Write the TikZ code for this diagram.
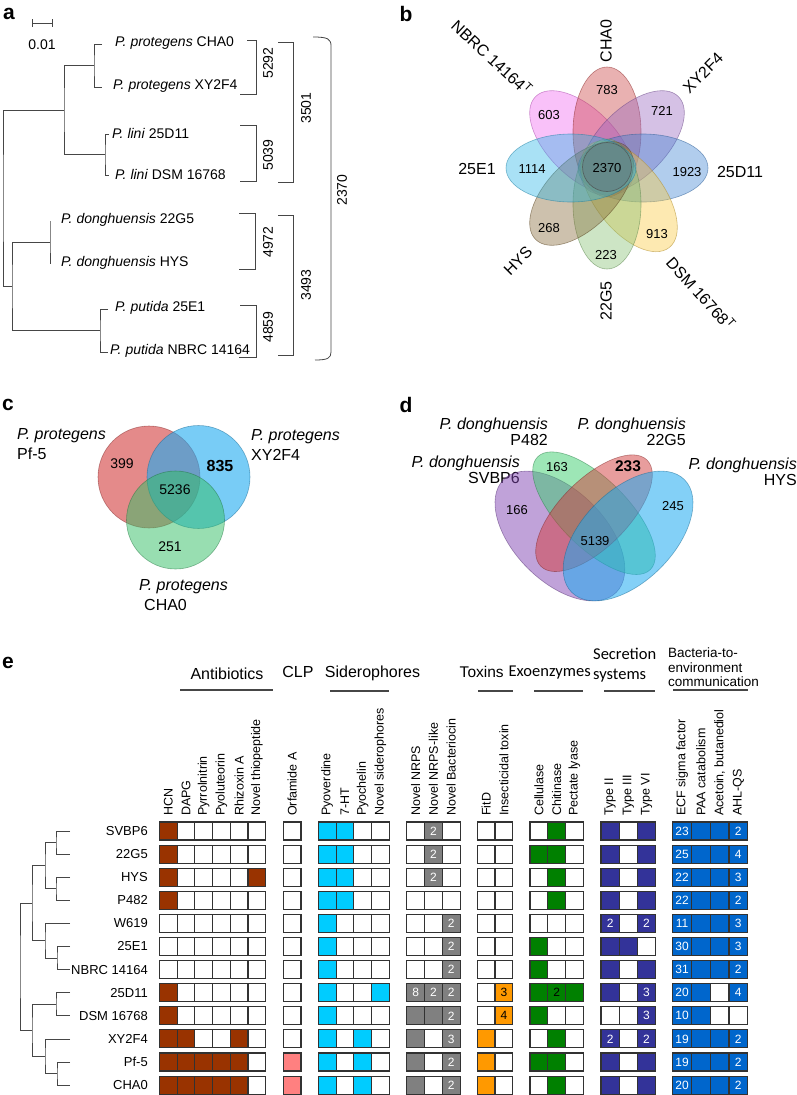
\documentclass[tikz,border=0pt]{standalone}
\usepackage{fontspec}
\setmainfont{Liberation Sans}
\newfontfamily\calibfont{Carlito}
\definecolor{abx}{RGB}{153,51,0}
\definecolor{orf}{RGB}{255,128,128}
\definecolor{sid}{RGB}{0,204,255}
\definecolor{nrp}{RGB}{128,128,128}
\definecolor{tox}{RGB}{255,153,0}
\definecolor{exo}{RGB}{0,128,0}
\definecolor{sec}{RGB}{51,51,153}
\definecolor{com}{RGB}{0,102,204}
\definecolor{cellline}{RGB}{50,50,50}
\definecolor{linegray}{RGB}{70,70,70}
\definecolor{cNB}{RGB}{240,100,240}
\definecolor{cCH}{RGB}{200,60,60}
\definecolor{cXY}{RGB}{150,100,190}
\definecolor{cDE}{RGB}{60,130,210}
\definecolor{cDS}{RGB}{250,200,60}
\definecolor{cGF}{RGB}{130,190,110}
\definecolor{cHY}{RGB}{130,100,50}
\definecolor{cEO}{RGB}{40,180,230}
\definecolor{cCenter}{RGB}{90,60,90}
\definecolor{vRed}{RGB}{210,60,60}
\definecolor{vBlue}{RGB}{30,170,240}
\definecolor{vGreen}{RGB}{50,190,100}
\definecolor{vPurp}{RGB}{130,70,180}
\definecolor{vGrn}{RGB}{60,205,110}
\newcommand\myfs[1]{\fontsize{#1}{#1}\selectfont}
\newcommand\cellgroup[6]{%
  \foreach \vals [count=\r from 0] in {#6}{%
    \foreach \v [count=\k from 0] in \vals {%
      \pgfmathsetmacro\cx{#2+#3*(\k+0.5)}%
      \pgfmathsetmacro\cy{831+23.1*\r}%
      \ifnum\v=0\relax
        \node[cellbox, minimum width=#3pt] (#1-\r-\k) at (\cx,\cy) {};%
      \else\ifnum\v=1\relax
        \node[cellbox, minimum width=#3pt, fill=#4] (#1-\r-\k) at (\cx,\cy) {};%
      \else
        \node[cellbox, minimum width=#3pt, fill=#4, text=#5] (#1-\r-\k) at (\cx,\cy) {\v};%
      \fi\fi
    }%
  }%
}
\newcommand\collabels[4]{%
  \foreach \t [count=\k from 0] in {#4}{%
    \pgfmathsetmacro\cx{#2+#3*(\k+0.5)}%
    \node[collab] (#1-lab-\k) at (\cx,816) {\t};%
  }%
}
\begin{document}
\begin{tikzpicture}[x=1pt,y=-1pt,
  tree/.style={draw=linegray, line width=0.8pt},
  brk/.style={draw=linegray, line width=0.8pt},
  leaf/.style={anchor=west, font=\myfs{14}, inner sep=0pt},
  brklab/.style={rotate=90, font=\myfs{14}, inner sep=0pt},
  plet/.style={font=\myfs{21}\bfseries, inner sep=0pt},
  bnum/.style={font=\myfs{13}, inner sep=0pt},
  blab/.style={font=\myfs{16}, inner sep=0pt},
  cnum/.style={font=\myfs{14}, inner sep=0pt},
  vlab/.style={font=\fontsize{16}{20}\selectfont, inner sep=0pt},
  dlab/.style={font=\fontsize{16}{16}\selectfont, inner sep=0pt, align=right, anchor=east},
  cellbox/.style={draw=cellline, line width=1.1pt, minimum height=18pt, inner sep=0pt, font=\myfs{12}, text=white},
  collab/.style={rotate=90, anchor=west, font=\myfs{12.5}, inner sep=0pt},
  rowlab/.style={anchor=east, font=\myfs{13}, inner sep=0pt},
  hdr/.style={font=\myfs{16}, inner sep=0pt},
  hdrc/.style={font=\calibfont\fontsize{16.5}{20}\selectfont, inner sep=0pt},
  hline/.style={draw=linegray, line width=1.2pt}
]
\useasboundingbox (0,0) rectangle (797,1095);

% ================= panel a =================
\node[plet] (la) at (9,14) {a};
\draw[tree] (32,23) -- (52,23);
\draw[tree] (32,19) -- (32,27);
\draw[tree] (52,19) -- (52,27);
\node[leaf, anchor=center] (scalelab) at (42,45) {0.01};

\coordinate (tCHA) at (102,44);  \coordinate (tXY) at (102,87);
\coordinate (tD11) at (109,134); \coordinate (tDSM) at (109,175);
\coordinate (tG5) at (50,221);   \coordinate (tHYS) at (50,264);
\coordinate (tE1) at (108,309);  \coordinate (tNB) at (108,352);
\coordinate (nPro) at (94,65.5); \coordinate (nLin) at (105,154.5);
\coordinate (nPL) at (64,110);   \coordinate (nDon) at (50,242.5);
\coordinate (nPut) at (100,330.5); \coordinate (nDP) at (12,286.5);
\coordinate (nRoot) at (3,198);
\draw[tree] (tCHA) -| (nPro) |- (tXY);
\draw[tree] (tD11) -| (nLin) |- (tDSM);
\draw[tree] (nPro) -| (nPL) |- (nLin);
\draw[tree] (tG5) -- (nDon) -- (tHYS);
\draw[tree] (tE1) -| (nPut) |- (tNB);
\draw[tree] (nDon) -| (nDP) |- (nPut);
\draw[tree] (nPL) -| (nRoot) |- (nDP);

\node[leaf] (lCHA) at (115,43) {\textit{P. protegens} CHA0};
\node[leaf] (lXY) at (113,86) {\textit{P. protegens} XY2F4};
\node[leaf] (lD11) at (112,133) {\textit{P. lini} 25D11};
\node[leaf] (lDSM) at (115,174) {\textit{P. lini} DSM 16768};
\node[leaf] (lG5) at (61,220) {\textit{P. donghuensis} 22G5};
\node[leaf] (lHYS) at (61,263) {\textit{P. donghuensis} HYS};
\node[leaf] (lE1) at (115,308) {\textit{P. putida} 25E1};
\node[leaf] (lNB) at (110,351) {\textit{P. putida} NBRC 14164};

\draw[brk] (247,40) -- (256,40) -- (256,94) -- (240,94);
\node[brklab] (b5292) at (268,63) {5292};
\draw[brk] (240,125) -- (256,125) -- (256,181) -- (240,181);
\node[brklab] (b5039) at (268,155) {5039};
\draw[brk] (278,42) -- (293,42) -- (293,182) -- (278,182);
\node[brklab] (b3501) at (306,108) {3501};
\draw[brk] (239,213) -- (255,213) -- (255,269) -- (239,269);
\node[brklab] (b4972) at (268,242) {4972};
\draw[brk] (278,215) -- (293,215) -- (293,355) -- (278,355);
\node[brklab] (b3493) at (306,285) {3493};
\draw[brk] (240,305) -- (256,305) -- (256,357) -- (239,357);
\node[brklab] (b4859) at (268,327) {4859};
\draw[brk] (313,37) .. controls (328,37) and (331,39) .. (331,46) -- (331,352) .. controls (331,358) and (328,360) .. (315,360);
\node[brklab] (b2370) at (342,190) {2370};

% ================= panel b =================
\node[plet] (lb) at (406,14) {b};
\foreach \ang/\col in {135/cNB, 90/cCH, 45/cXY, 0/cDE, -52/cDS, -90/cGF, -135/cHY, 180/cEO}{
  \begin{scope}[shift={(607,168)}, rotate=\ang]
    \path[fill=\col, fill opacity=0.4, draw=\col!70!black, draw opacity=0.55, line width=0.6pt]
      (36pt,0pt) ellipse [x radius=65pt, y radius=34pt];
  \end{scope}
}
\path[fill=cCenter, fill opacity=0.18, draw=black!70, draw opacity=0.7, line width=0.7pt] (607,167) circle [radius=24.5pt];
\node[bnum] (n783) at (607,90) {783};
\node[bnum] (n603) at (549,115) {603};
\node[bnum] (n721) at (662,111) {721};
\node[bnum] (n1114) at (532,169) {1114};
\node[bnum] (n2370) at (607,168) {2370};
\node[bnum] (n1923) at (687,172) {1923};
\node[bnum] (n268) at (549,228) {268};
\node[bnum] (n223) at (606,255) {223};
\node[bnum] (n913) at (657,234) {913};
\node[blab, rotate=90] (sCHA) at (606,41) {CHA0};
\node[blab, rotate=-43] (sNB) at (492,57) {NBRC 14164\textsuperscript{T}};
\node[blab, rotate=45] (sXY) at (703,73) {XY2F4};
\node[blab] (sD11) at (740,172) {25D11};
\node[blab] (sE1) at (477,169) {25E1};
\node[blab, rotate=45] (sHYS) at (518,261) {HYS};
\node[blab, rotate=90] (sG5) at (606,301) {22G5};
\node[blab, rotate=-48] (sDSM) at (701,293) {DSM 16768\textsuperscript{T}};

% ================= panel c =================
\node[plet] (lc) at (8,405) {c};
\path[fill=vRed, fill opacity=0.6, draw=vRed!60!black, draw opacity=0.5, line width=0.6pt] (149,477) circle [radius=51pt];
\path[fill=vBlue, fill opacity=0.6, draw=vBlue!60!black, draw opacity=0.5, line width=0.6pt] (198.5,477) circle [radius=51.5pt];
\path[fill=vGreen, fill opacity=0.5, draw=vGreen!60!black, draw opacity=0.5, line width=0.6pt] (175.5,520) circle [radius=49pt];
\node[cnum] (c399) at (122,464) {399};
\node[cnum, font=\myfs{16}\bfseries] (c835) at (220,466) {835};
\node[cnum] (c5236) at (175,490) {5236};
\node[cnum] (c251) at (170,547) {251};
\node[vlab, align=left, anchor=west] (cPf) at (17,444.5) {\textit{P. protegens}\\Pf-5};
\node[vlab, align=left, anchor=west] (cXY) at (251,444.5) {\textit{P. protegens}\\XY2F4};
\node[vlab, align=left, anchor=west] (cCH) at (139,595) {\textit{P. protegens}\\\hspace*{5pt}CHA0};

% ================= panel d =================
\node[plet] (ld) at (406,405) {d};
\node[dlab] (dP) at (548,432) {\textit{P. donghuensis}\\P482};
\node[dlab] (dG) at (686,432) {\textit{P. donghuensis}\\22G5};
\node[dlab] (dS) at (520,469.5) {\textit{P. donghuensis}\\SVBP6};
\node[dlab] (dH) at (797,472) {\textit{P. donghuensis}\\HYS};
\begin{scope}[shift={(559.9,536)}, rotate=-45]
  \path[fill=vPurp, fill opacity=0.5, draw=vPurp!60!black, draw opacity=0.5, line width=0.6pt] (0,0) ellipse [x radius=79.7pt, y radius=45.5pt];
\end{scope}
\begin{scope}[shift={(594,513.2)}, rotate=-45]
  \path[fill=vGrn, fill opacity=0.5, draw=vGrn!60!black, draw opacity=0.5, line width=0.6pt] (0,0) ellipse [x radius=79.7pt, y radius=34.1pt];
\end{scope}
\begin{scope}[shift={(594,513.2)}, rotate=45]
  \path[fill=vRed, fill opacity=0.5, draw=vRed!60!black, draw opacity=0.5, line width=0.6pt] (0,0) ellipse [x radius=75.1pt, y radius=34.1pt];
\end{scope}
\begin{scope}[shift={(628.1,536)}, rotate=45]
  \path[fill=vBlue, fill opacity=0.55, draw=vBlue!60!black, draw opacity=0.5, line width=0.6pt] (0,0) ellipse [x radius=79.7pt, y radius=45.5pt];
\end{scope}
\node[bnum] (d166) at (517,510) {166};
\node[bnum] (d163) at (557,467) {163};
\node[bnum, font=\myfs{15.5}\bfseries] (d233) at (628,466) {233};
\node[bnum] (d245) at (673,506) {245};
\node[bnum] (d5139) at (595,541) {5139};

% ================= panel e =================
\node[plet] (le) at (8,663) {e};
\node[hdr] (hAnt) at (227,674) {Antibiotics};
\draw[hline] (180,690) -- (273,690);
\node[hdr] (hCLP) at (298,672) {CLP};
\node[hdr] (hSid) at (372.5,673) {Siderophores};
\draw[hline] (330,691) -- (389,691);
\node[hdr, font=\myfs{15.5}] (hTox) at (481.7,672) {Toxins};
\draw[hline] (478,691) -- (513,691);
\node[hdrc] (hExo) at (549.7,673) {Exoenzymes};
\draw[hline] (534,691) -- (583,691);
\node[hdrc, align=left, anchor=west] (hSec) at (593,665) {Secretion\\systems};
\draw[hline] (604,691) -- (655,691);
\node[hdr, font=\fontsize{13.5}{14.5}\selectfont, align=left, anchor=west] (hCom) at (668,667.5) {Bacteria-to-\\environment\\communication};
\draw[hline] (673,690) -- (748,690);

\collabels{A}{159.5}{17.7}{HCN,DAPG,Pyrrolnitrin,Pyoluteorin,Rhizoxin A,Novel thiopeptide}
\collabels{O}{283.3}{17.7}{Orfamide A}
\collabels{S}{318.3}{17.75}{Pyoverdine,7-HT,Pyochelin,Novel siderophores}
\collabels{N}{406.7}{17.8}{Novel NRPS,Novel NRPS-like,Novel Bacteriocin}
\collabels{T}{477.3}{17.7}{FitD,Insecticidal toxin}
\collabels{E}{530}{17.8}{Cellulase,Chitinase,Pectate lyase}
\collabels{Y}{601}{18.2}{Type II,Type III,Type VI}
\collabels{C}{672.7}{18.75}{ECF sigma factor,PAA catabolism,{Acetoin, butanediol},AHL-QS}

\foreach \t [count=\r from 0] in {SVBP6,22G5,HYS,P482,W619,25E1,NBRC 14164,25D11,DSM 16768,XY2F4,Pf-5,CHA0}{
  \pgfmathsetmacro\cy{831+23.1*\r}
  \node[rowlab] (row-\r) at (148,\cy) {\t};
}

\cellgroup{A}{159.5}{17.7}{abx}{white}{{1,0,0,0,0,0},{1,0,0,0,0,0},{1,0,0,0,0,1},{1,0,0,0,0,0},{0,0,0,0,0,0},{0,0,0,0,0,0},{0,0,0,0,0,0},{1,0,0,0,0,0},{1,0,0,0,0,0},{1,1,0,0,1,0},{1,1,1,1,1,0},{1,1,1,1,1,0}}
\cellgroup{O}{283.3}{17.7}{orf}{white}{{0},{0},{0},{0},{0},{0},{0},{0},{0},{0},{1},{1}}
\cellgroup{S}{318.3}{17.75}{sid}{white}{{1,1,0,0},{1,1,0,0},{1,1,0,0},{1,1,0,0},{1,0,0,0},{1,0,0,0},{1,0,0,0},{1,0,0,1},{1,0,0,0},{1,0,1,0},{1,0,1,0},{1,0,1,0}}
\cellgroup{N}{406.7}{17.8}{nrp}{white}{{0,2,0},{0,2,0},{0,2,0},{0,0,0},{0,0,2},{0,0,2},{0,0,2},{8,2,2},{1,1,2},{1,0,3},{1,0,2},{1,0,2}}
\cellgroup{T}{477.3}{17.7}{tox}{black}{{0,0},{0,0},{0,0},{0,0},{0,0},{0,0},{0,0},{0,3},{0,4},{1,0},{1,0},{1,0}}
\cellgroup{E}{530}{17.8}{exo}{black}{{0,1,0},{1,1,0},{0,1,0},{0,1,0},{0,0,0},{1,0,0},{1,0,0},{1,2,1},{1,0,0},{0,1,0},{1,1,0},{0,1,0}}
\cellgroup{Y}{601}{18.2}{sec}{white}{{1,0,1},{1,0,1},{1,0,1},{1,0,1},{2,0,2},{1,1,0},{1,0,1},{1,0,3},{0,0,3},{2,0,2},{1,0,1},{1,0,1}}
\cellgroup{C}{672.7}{18.75}{com}{white}{{23,1,1,2},{25,1,1,4},{22,1,1,3},{22,1,1,2},{11,1,1,3},{30,1,1,3},{31,1,1,2},{20,1,0,4},{10,1,0,0},{19,1,1,2},{19,1,1,2},{20,1,1,2}}

% dendrogram e
\coordinate (e0) at (70,831);    \coordinate (e1) at (70,854.1);
\coordinate (e2) at (70,877.2);  \coordinate (e3) at (70,900.3);
\coordinate (e4) at (70,923.4);  \coordinate (e5) at (70,946.5);
\coordinate (e6) at (70,969.6);  \coordinate (e7) at (70,992.7);
\coordinate (e8) at (70,1015.8); \coordinate (e9) at (70,1038.9);
\coordinate (e10) at (70,1062);  \coordinate (e11) at (70,1085.1);
\coordinate (m01) at (56,842.55);  \coordinate (m23) at (56,888.75);
\coordinate (mA) at (45,865.65);   \coordinate (m56) at (57,958.05);
\coordinate (mB) at (45,940.7);    \coordinate (mAB) at (32,903.2);
\coordinate (m78) at (56,1004.25); \coordinate (m1011) at (57,1073.55);
\coordinate (mC) at (45,1056.2);   \coordinate (mD) at (32,1030.2);
\coordinate (mR) at (20,966.7);
\draw[tree] (e0) -| (m01) |- (e1);
\draw[tree] (e2) -| (m23) |- (e3);
\draw[tree] (m01) -| (mA) |- (m23);
\draw[tree] (e5) -| (m56) |- (e6);
\draw[tree] (e4) -| (mB) |- (m56);
\draw[tree] (mA) -| (mAB) |- (mB);
\draw[tree] (e7) -| (m78) |- (e8);
\draw[tree] (e10) -| (m1011) |- (e11);
\draw[tree] (e9) -| (mC) |- (m1011);
\draw[tree] (m78) -| (mD) |- (mC);
\draw[tree] (mAB) -| (mR) |- (mD);
\end{tikzpicture}
\end{document}
